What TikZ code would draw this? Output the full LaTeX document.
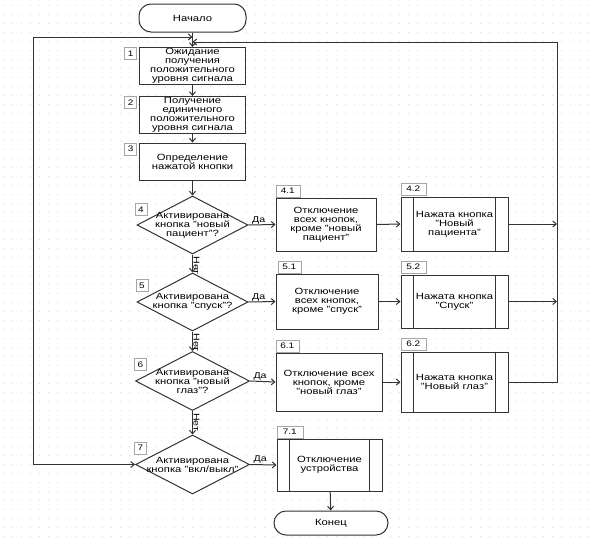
\documentclass[tikz,border=0pt]{standalone}
\usepackage{fontspec}
\setmainfont{Liberation Sans}[FakeStretch=1.25]
\usetikzlibrary{shapes.geometric,arrows.meta,calc,positioning}

\newcommand{\prcbars}[1]{%
  \draw[boxline] ([xshift=13pt]#1.north west) -- ([xshift=13pt]#1.south west);
  \draw[boxline] ([xshift=-13pt]#1.north east) -- ([xshift=-13pt]#1.south east);}

\tikzset{
  boxline/.style={draw=black!80, line width=1pt},
  txt/.style={font=\fontsize{9}{9}\selectfont, align=center, text=black},
  blk/.style={boxline, txt, fill=white, inner sep=1pt},
  term/.style={blk, rounded corners=12pt},
  dia/.style={diamond, boxline, fill=white, inner sep=0pt},
  dtxt/.style={txt, inner sep=0pt},
  tab/.style={draw=black!35, line width=0.7pt, fill=white, font=\fontsize{8}{8}\selectfont, inner sep=1.5pt, minimum height=12pt, minimum width=12pt},
  edge/.style={boxline, -{Straight Barb[length=3.5pt,width=6pt]}},
  lbl/.style={font=\fontsize{8.5}{9}\selectfont, inner sep=0.5pt},
  griddot/.style={draw=black!14, line width=0.7pt, dash pattern=on 0.7pt off 8.3pt}
}

\begin{document}
\begin{tikzpicture}[x=1pt,y=1pt,yscale=-1,xscale=1]
		\useasboundingbox (0,0) rectangle (594,544);

		% Faint dotted grid behind the chart
		\foreach \gy in {5,14,...,544}
			\draw[griddot] (3,\gy) -- (594,\gy);

		% Start and the first three steps
		\node[term, minimum width=107pt, minimum height=28pt] (start) at (192.5,18) {Начало};
		\node[blk, minimum width=106pt, minimum height=34pt] (b1) at (192.5,66) {Ожидание\\получения\\положительного\\уровня сигнала};
		\node[blk, minimum width=106pt, minimum height=36pt] (b2) at (192.5,115) {Получение\\единичного\\положительного\\уровня сигнала};
		\node[blk, minimum width=106pt, minimum height=37pt] (b3) at (192.5,161.5) {Определение\\нажатой кнопки};

		% Decisions
		\node[dia, minimum width=111pt, minimum height=58pt] (d4) at (192.5,225) {};
		\node[dtxt] (d4t) at (d4) {Активирована\\кнопка "новый\\пациент"?};
		\node[dia, minimum width=111pt, minimum height=58pt] (d5) at (192.5,302) {};
		\node[dtxt] (d5t) at (d5) {Активирована\\кнопка "спуск"?};
		\node[dia, minimum width=114pt, minimum height=59pt] (d6) at (192.5,381) {};
		\node[dtxt] (d6t) at (d6) {Активирована\\кнопка "новый\\глаз"?};
		\node[dia, minimum width=114pt, minimum height=59pt] (d7) at (192.5,464.5) {};
		\node[dtxt] (d7t) at (d7) {Активирована\\кнопка "вкл/выкл"};

		% Switching off the other buttons
		\node[blk, minimum width=100pt, minimum height=53pt] (b41) at (326,224.5) {Отключение\\всех кнопок,\\кроме "новый\\пациент"};
		\node[blk, minimum width=102pt, minimum height=55pt] (b51) at (327,301.5) {Отключение\\всех кнопок,\\кроме "спуск"};
		\node[blk, minimum width=106pt, minimum height=58pt] (b61) at (329,382) {Отключение всех\\кнопок, кроме\\"новый глаз"};

		% Predefined processes
		\node[blk, minimum width=107pt, minimum height=54pt] (b42) at (454.5,224) {Нажата кнопка\\"Новый\\пациента"};
		\node[blk, minimum width=107pt, minimum height=53pt] (b52) at (454.5,301.5) {Нажата кнопка\\"Спуск"};
		\node[blk, minimum width=107pt, minimum height=60pt] (b62) at (454.5,382) {Нажата кнопка\\"Новый глаз"};
		\node[blk, minimum width=105pt, minimum height=52pt] (b71) at (329.5,465) {Отключение\\устройства};
		\prcbars{b42}
		\prcbars{b52}
		\prcbars{b62}
		\prcbars{b71}

		% End
		\node[term, minimum width=114pt, minimum height=24pt] (end) at (331,523) {Конец};

		% Number tabs
		\node[tab, anchor=north east] (n1) at ($(b1.north west)+(-2,0)$) {1};
		\node[tab, anchor=north east] (n2) at ($(b2.north west)+(-2,0)$) {2};
		\node[tab, anchor=north east] (n3) at ($(b3.north west)+(-2,0)$) {3};
		\node[tab, anchor=south west] (n4) at ($(d4.west)+(-2,-9)$) {4};
		\node[tab, anchor=south west] (n5) at ($(d5.west)+(-1,-10)$) {5};
		\node[tab, anchor=south west] (n6) at ($(d6.west)+(-1,-10)$) {6};
		\node[tab, anchor=south west] (n7) at ($(d7.west)+(-1,-10)$) {7};
		\node[tab, anchor=south west, minimum width=24pt] (n41) at (b41.north west) {4.1};
		\node[tab, anchor=south west, minimum width=25pt] (n42) at ($(b42.north west)+(0,-1)$) {4.2};
		\node[tab, anchor=south west, minimum width=23pt] (n51) at ($(b51.north west)+(2,0)$) {5.1};
		\node[tab, anchor=south west, minimum width=25pt] (n52) at ($(b52.north west)+(0,-1)$) {5.2};
		\node[tab, anchor=south west, minimum width=23pt] (n61) at (b61.north west) {6.1};
		\node[tab, anchor=south west, minimum width=25pt] (n62) at ($(b62.north west)+(0,-1)$) {6.2};
		\node[tab, anchor=south west, minimum width=26pt] (n71) at (b71.north west) {7.1};

		% Return points on the main line
		\coordinate (jl) at (start.south |- 0,37);
		\coordinate (jr) at (start.south |- 0,42);
		\coordinate (rtop) at (557,42);
		\coordinate (lbot) at (33,464.5);

		% Main line
		\draw[edge] (start) -- (b1);
		\draw[edge] (b1) -- (b2);
		\draw[edge] (b2) -- (b3);
		\draw[edge] (b3) -- (d4);
		\draw[edge] (d4) -- node[lbl, rotate=-90, anchor=south west, pos=0.05] (no4) {Нет} (d5);
		\draw[edge] (d5) -- node[lbl, rotate=-90, anchor=south west, pos=0.05] (no5) {Нет} (d6);
		\draw[edge] (d6) -- node[lbl, rotate=-90, anchor=south west, pos=0.05] (no6) {Нет} (d7);

		% Yes branches
		\draw[edge] (d4.east) -- node[lbl, anchor=south west, pos=0.1] (yes4) {Да} (b41.west);
		\draw[edge] (d5.east) -- node[lbl, anchor=south west, pos=0.1] (yes5) {Да} (b51.west);
		\draw[edge] (d6.east) -- node[lbl, anchor=south west, pos=0.1] (yes6) {Да} (b61.west);
		\draw[edge] (d7.east) -- node[lbl, anchor=south west, pos=0.1] (yes7) {Да} (b71.west);
		\draw[edge] (b41.east) -- (b42.west);
		\draw[edge] (b51.east) -- (b52.west);
		\draw[edge] (b61.east) -- (b62.west);
		\draw[edge] (b71) -- (end);

		% Back to waiting: right trunk
		\draw[edge] (b42.east) -- (b42.east -| rtop);
		\draw[edge] (b52.east) -- (b52.east -| rtop);
		\draw[edge] (b62.east) -- (b62.east -| rtop) -- (rtop) -- (jr);

		% Back to waiting: left loop
		\draw[boxline, {Straight Barb[length=3.5pt,width=6pt]}-{Straight Barb[length=3.5pt,width=6pt]}] (d7.west) -- (lbot) -- (lbot |- jl) -- (jl);
	\end{tikzpicture}
\end{document}
